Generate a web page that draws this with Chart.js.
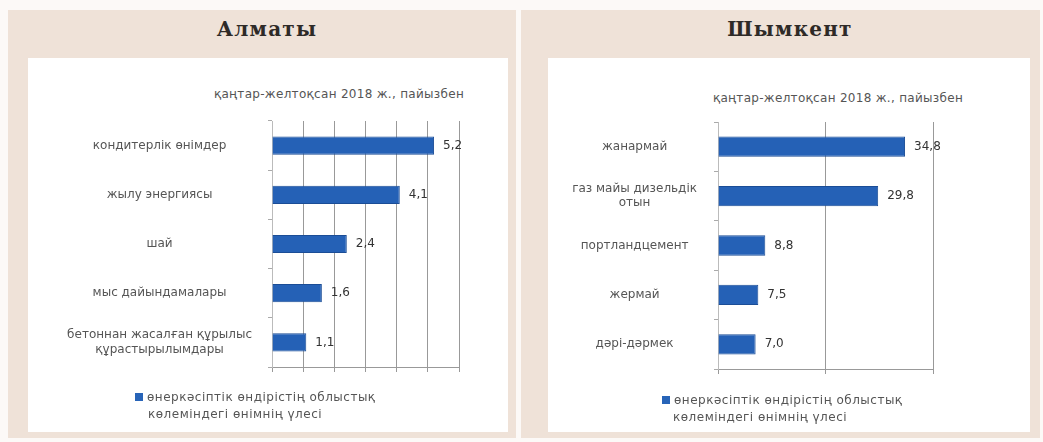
<!DOCTYPE html>
<html>
<head>
<meta charset="utf-8">
<script src="https://cdn.jsdelivr.net/npm/chart.js@4.4.1/dist/chart.umd.min.js"></script>
<style>
  body { margin: 0; width: 1043px; height: 442px; background: #fcf9f7; position: relative; overflow: hidden; font-family: "DejaVu Sans", sans-serif; }
  .panel { position: absolute; top: 10px; height: 428px; background: #efe2d8; }
  .head { position: absolute; top: 17px; text-align: center; font-family: "DejaVu Serif", serif; font-size: 20px; font-weight: bold; letter-spacing: 1.2px; color: #2e2a27; }
  .box { position: absolute; top: 58px; height: 374px; background: #fff; }
  .sub { position: absolute; font-size: 12px; letter-spacing: 0.3px; color: #555; white-space: nowrap; transform: translateX(-50%); }
  .legend { position: absolute; font-size: 12px; letter-spacing: 0.5px; color: #555; line-height: 17px; white-space: nowrap; }
  .legend i { display: inline-block; width: 8px; height: 8px; background: #2864b8; margin-right: 4px; }
  canvas { position: absolute; }
</style>
</head>
<body>
<div class="panel" style="left:8px;width:508px"></div>
<div class="panel" style="left:521px;width:519px"></div>
<div class="head" style="left:8px;width:518px">Алматы</div>
<div class="head" style="left:521px;width:538px">Шымкент</div>
<div class="box" style="left:28px;width:480px"></div>
<div class="box" style="left:548px;width:482px"></div>

<div class="sub" style="left:339px;top:87px">қаңтар-желтоқсан 2018 ж., пайызбен</div>
<div class="sub" style="left:838px;top:91px">қаңтар-желтоқсан 2018 ж., пайызбен</div>

<div style="position:absolute;left:28px;top:58px;width:480px;height:374px"><canvas id="almaty"></canvas></div>
<div style="position:absolute;left:548px;top:58px;width:482px;height:374px"><canvas id="shymkent"></canvas></div>

<div class="legend" style="left:135px;top:389px"><i></i>өнеркәсіптік өндірістің облыстық<br><span style="padding-left:13px">көлеміндегі өнімнің үлесі</span></div>
<div class="legend" style="left:662px;top:392px"><i></i>өнеркәсіптік өндірістің облыстық<br><span style="padding-left:11px">көлеміндегі өнімнің үлесі</span></div>

<script>
// Алматы
const almatyLabels = ['кондитерлік өнімдер', 'жылу энергиясы', 'шай', 'мыс дайындамалары', ['бетоннан жасалған құрылыс', 'құрастырылымдары']];
const almatyValues = [5.2, 4.1, 2.4, 1.6, 1.1];
const almatyMax = 6;
const almatyStep = 1;

// Шымкент
const shymkentLabels = ['жанармай', ['газ майы дизельдік', 'отын'], 'портландцемент', 'жермай', 'дәрі-дәрмек'];
const shymkentValues = [34.8, 29.8, 8.8, 7.5, 7.0];
const shymkentMax = 40;
const shymkentStep = 20;

const seriesName = 'өнеркәсіптік өндірістің облыстық көлеміндегі өнімнің үлесі';

// value labels right of each bar, with a comma decimal
const valueLabels = {
  id: 'valueLabels',
  afterDatasetsDraw(chart) {
    const ctx = chart.ctx;
    const meta = chart.getDatasetMeta(0);
    const data = chart.data.datasets[0].data;
    ctx.save();
    ctx.font = '12px "DejaVu Sans"';
    ctx.fillStyle = '#333';
    ctx.textBaseline = 'middle';
    meta.data.forEach((bar, i) => {
      ctx.fillText(data[i].toFixed(1).replace('.', ','), bar.x + 9, bar.y);
    });
    ctx.restore();
  }
};

function makeChart(id, labels, values, max, step, opt) {
  return new Chart(document.getElementById(id), {
    type: 'bar',
    data: {
      labels: labels,
      datasets: [{
        label: seriesName,
        data: values,
        backgroundColor: '#2561b6',
        borderColor: '#1b4d96',
        borderWidth: 1,
        barPercentage: opt.barPct,
        categoryPercentage: 1
      }]
    },
    options: {
      indexAxis: 'y',
      responsive: true,
      maintainAspectRatio: false,
      animation: false,
      layout: { padding: opt.padding },
      plugins: {
        legend: { display: false },
        tooltip: { enabled: false }
      },
      scales: {
        x: {
          min: 0,
          max: max,
          ticks: { display: false, stepSize: step },
          grid: { color: '#999', tickLength: 5 },
          border: { color: '#999' },
          afterFit: s => { s.height = 6; }
        },
        y: {
          ticks: {
            crossAlign: 'center',
            padding: opt.tickPad,
            color: '#555',
            font: { family: 'DejaVu Sans', size: 12 }
          },
          grid: { drawOnChartArea: false, color: '#aaa', tickLength: 4, offset: true },
          border: { color: '#bbb' },
          afterFit: s => { s.width = opt.axisWidth; }
        }
      }
    },
    plugins: [valueLabels]
  });
}

makeChart('almaty', almatyLabels, almatyValues, almatyMax, almatyStep, {
  barPct: 0.37,
  padding: { top: 63, right: 49, bottom: 59, left: 0 },
  axisWidth: 244,
  tickPad: 16
});

makeChart('shymkent', shymkentLabels, shymkentValues, shymkentMax, shymkentStep, {
  barPct: 0.41,
  padding: { top: 64, right: 97, bottom: 57, left: 0 },
  axisWidth: 170,
  tickPad: 17
});
</script>
</body>
</html>
